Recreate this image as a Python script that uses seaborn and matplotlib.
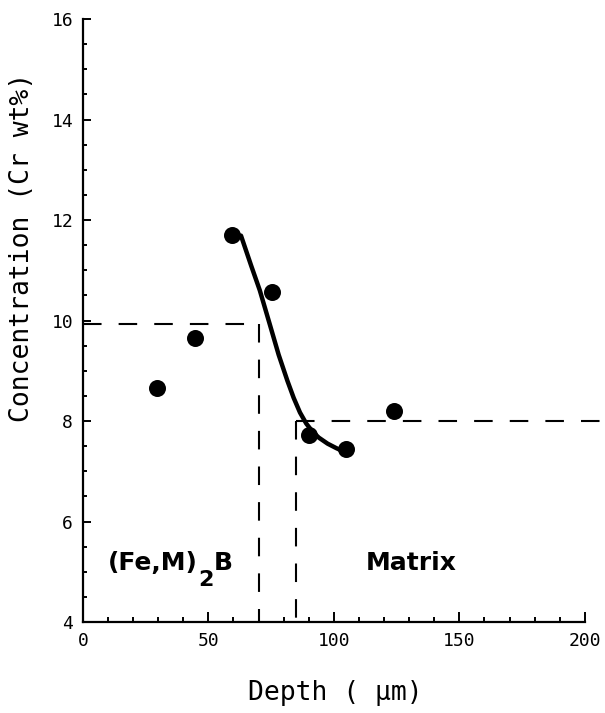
import matplotlib
matplotlib.use("Agg")
import matplotlib.pyplot as plt
import numpy as np
import pandas as pd
import seaborn as sns

## measured points
depth = [29.5, 44.5, 59.5, 75.5, 90, 105, 124]
cr = [8.65, 9.65, 11.7, 10.56, 7.73, 7.45, 8.19]

## hand drawn fit curve
curve_depth = [63, 67, 70.5, 74.5, 78, 81.5, 84, 86.5, 89, 91.5, 94, 97.5, 101, 104.5]
curve_cr = [11.69, 11.1, 10.6, 9.92, 9.32, 8.8, 8.46, 8.17, 7.95, 7.79, 7.67, 7.55, 7.46, 7.38]

## phase boundaries (dashed guides)
boride_level = 9.93
boride_edge = 70
matrix_level = 8.0
matrix_edge = 85

x_ticks = [0, 50, 100, 150, 200]
y_ticks = [4, 6, 8, 10, 12, 14, 16]

points = pd.DataFrame({"depth": depth, "cr": cr})
curve = pd.DataFrame({"depth": curve_depth, "cr": curve_cr})

sns.set_style("ticks")
plt.rcParams["font.family"] = ["DejaVu Sans Mono", "DejaVu Sans"]
plt.rcParams.update({"text.color": "black", "axes.labelcolor": "black",
                     "xtick.color": "black", "ytick.color": "black",
                     "axes.edgecolor": "black"})

fig = plt.figure(figsize=(6.05, 7.13), dpi=100)
ax = fig.add_axes([0.137, 0.1276, 0.8628, 0.8457])

sns.lineplot(data=curve, x="depth", y="cr", sort=False, color="black",
             linewidth=3.2, ax=ax, zorder=3)
sns.scatterplot(data=points, x="depth", y="cr", color="black", s=150,
                linewidth=0, ax=ax, zorder=4)

dash = dict(color="black", linewidth=1.5, dashes=(8.9, 8.2), zorder=2)
ax.plot([0, boride_edge], [boride_level, boride_level], **dash)
ax.plot([boride_edge, boride_edge], [boride_level, 4], **dash)
ax.plot([matrix_edge, 210], [matrix_level, matrix_level], **dash)
ax.plot([matrix_edge, matrix_edge], [matrix_level, 4], **dash)

ax.set_xlim(0, 208)
ax.set_ylim(4, 16)
ax.set_xticks(x_ticks)
ax.set_xticks(np.arange(0, 201, 10), minor=True)
ax.set_yticks(y_ticks)
ax.set_yticks(np.arange(4, 16.01, 0.5), minor=True)

for s in ["top", "right"]:
    ax.spines[s].set_visible(False)
ax.spines["bottom"].set_bounds(0, 200)
for s in ["left", "bottom"]:
    ax.spines[s].set_linewidth(1.6)

ax.tick_params(axis="both", which="both", direction="in", width=1.4,
               labelsize=13, pad=7)
ax.tick_params(axis="x", which="major", length=7.2)
ax.tick_params(axis="x", which="minor", length=3.6)
ax.tick_params(axis="y", which="major", length=5.8)
ax.tick_params(axis="y", which="minor", length=2.9)

ax.set_xlabel("Depth ( \u03bcm)", fontsize=19)
ax.set_ylabel("Concentration (Cr wt%)", fontsize=19)
ax.xaxis.set_label_coords(0.484, -0.096)
ax.yaxis.set_label_coords(-0.092, 0.621)

## phase labels
lab = dict(fontsize=18, fontweight="bold", family="DejaVu Sans", va="baseline")
ax.text(10.1, 5.03, "(Fe,M)", ha="left", **lab)
ax.text(45.8, 4.71, "2", ha="left", **{**lab, "fontsize": 16})
ax.text(52.2, 5.03, "B", ha="left", **lab)
ax.text(131, 5.03, "Matrix", ha="center", **lab)

fig.savefig("out.png", dpi=100)
